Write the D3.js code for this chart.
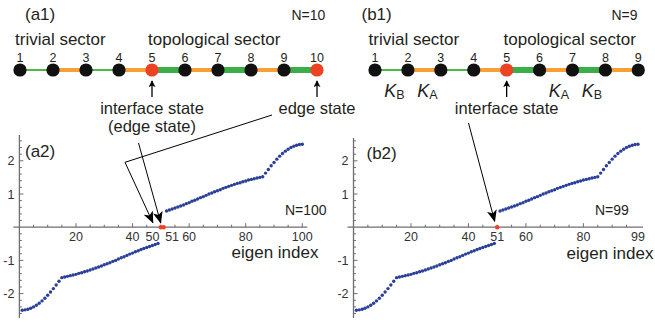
<!DOCTYPE html>
<html>
<head>
<meta charset="utf-8">
<script src="https://cdn.jsdelivr.net/npm/d3@7"></script>
<style>
  body { margin: 0; background: #fff; }
  svg { display: block; font-family: "Liberation Sans", Arial, sans-serif; }
</style>
</head>
<body>
<div id="chart"></div>
<script>
// chain data
var sitesA = [1, 2, 3, 4, 5, 6, 7, 8, 9, 10]
var bondsA = ["thin", "orange", "thin", "orange", "thick", "orange", "thick", "orange", "thick"]
var redA = [5, 10]
var sitesB = [1, 2, 3, 4, 5, 6, 7, 8, 9]
var bondsB = ["thin", "orange", "thin", "orange", "thick", "orange", "thick", "orange"]
var redB = [5]

// eigenvalues
var lowerBand = [-2.50, -2.49, -2.47, -2.44, -2.40, -2.35, -2.29, -2.22, -2.14, -2.05, -1.95, -1.85, -1.74, -1.63, -1.52,
  -1.50, -1.48, -1.46, -1.44, -1.42, -1.39, -1.37, -1.34, -1.32, -1.29, -1.26, -1.23, -1.20, -1.17, -1.13, -1.10,
  -1.07, -1.03, -1.00, -0.96, -0.92, -0.89, -0.85, -0.81, -0.78, -0.74, -0.71, -0.67, -0.64, -0.61, -0.58, -0.55,
  -0.52, -0.49]
var upperBand = [0.49, 0.52, 0.55, 0.58, 0.61, 0.64, 0.67, 0.71, 0.74, 0.78, 0.81, 0.85, 0.89, 0.92, 0.96, 1.00,
  1.03, 1.07, 1.10, 1.13, 1.17, 1.20, 1.23, 1.26, 1.29, 1.32, 1.34, 1.37, 1.39, 1.42, 1.44, 1.46, 1.48, 1.50,
  1.52, 1.63, 1.74, 1.85, 1.95, 2.05, 2.14, 2.22, 2.29, 2.35, 2.40, 2.44, 2.47, 2.49, 2.50]
var zeroIndexA = [50, 51]
var zeroLabelA = ["50", "51"]
var zeroIndexB = [50]
var zeroLabelB = ["51"]
var xTicksA = [20, 40, 60, 80, 100]
var xTicksB = [20, 40, 60, 80, 99]
var yTicks = [-2, -1, 1, 2]

var width = 655,
    height = 327

var ink = "#231f20",
    axisCol = "#6d6e71",
    dotCol = "#2a3f98",
    redCol = "#ee4224"
var bondStyle = {
  thin: {color: "#4db748", w: 2},
  orange: {color: "#f7a034", w: 4},
  thick: {color: "#3cae49", w: 6}
}

var svg = d3.select("#chart").append("svg")
    .attr("width", width)
    .attr("height", height)

var defs = svg.append("defs")
defs.append("marker")
    .attr("id", "head")
    .attr("markerUnits", "userSpaceOnUse")
    .attr("viewBox", "0 0 12 10")
    .attr("refX", 11).attr("refY", 5)
    .attr("markerWidth", 12).attr("markerHeight", 10)
    .attr("orient", "auto")
  .append("path")
    .attr("d", "M0,0 L12,5 L0,10 L3,5 z")
    .attr("fill", "#000")
defs.append("marker")
    .attr("id", "small")
    .attr("markerUnits", "userSpaceOnUse")
    .attr("viewBox", "0 0 8 8")
    .attr("refX", 7).attr("refY", 4)
    .attr("markerWidth", 7).attr("markerHeight", 7)
    .attr("orient", "auto")
  .append("path")
    .attr("d", "M0,0 L8,4 L0,8 L2,4 z")
    .attr("fill", "#000")

function label(x, y, txt, size, anchor) {
  return svg.append("text")
    .attr("x", x).attr("y", y)
    .attr("font-size", size)
    .attr("fill", ink)
    .attr("text-anchor", anchor || "start")
    .text(txt)
}

// ---------- chains ----------
function drawChain(sites, bonds, reds, x0, x1) {
  var x = d3.scaleLinear().domain([1, sites.length]).range([x0, x1])
  var cy = 70
  var g = svg.append("g")
  g.selectAll("line.bond")
    .data(bonds)
    .enter().append("line")
      .attr("x1", function(d, i) { return x(sites[i]) })
      .attr("x2", function(d, i) { return x(sites[i + 1]) })
      .attr("y1", cy).attr("y2", cy)
      .attr("stroke", function(d) { return bondStyle[d].color })
      .attr("stroke-width", function(d) { return bondStyle[d].w })
  g.selectAll("circle")
    .data(sites)
    .enter().append("circle")
      .attr("cx", function(d) { return x(d) })
      .attr("cy", cy)
      .attr("r", 6.6)
      .attr("fill", function(d) { return reds.indexOf(d) >= 0 ? redCol : "#111" })
  g.selectAll("text")
    .data(sites)
    .enter().append("text")
      .attr("x", function(d) { return x(d) })
      .attr("y", 62)
      .attr("text-anchor", "middle")
      .attr("font-size", 12.5)
      .attr("fill", ink)
      .text(function(d) { return d })
  reds.forEach(function(s) {
    g.append("line")
      .attr("x1", x(s)).attr("x2", x(s))
      .attr("y1", 97).attr("y2", 81)
      .attr("stroke", "#000").attr("stroke-width", 1.3)
      .attr("marker-end", "url(#small)")
  })
  return x
}

var chainA = drawChain(sitesA, bondsA, redA, 20, 317)
var chainB = drawChain(sitesB, bondsB, redB, 375, 638.3)

label(25, 20, "(a1)", 17)
label(291.5, 20, "N=10", 14)
label(15, 45, "trivial sector", 17)
label(148, 45, "topological sector", 17)
label(chainA(5), 114, "interface state", 16.5, "middle")
label(chainA(5), 132, "(edge state)", 16.5, "middle")
label(chainA(10), 114, "edge state", 16.5, "middle")

label(361.5, 20, "(b1)", 17)
label(611.5, 20, "N=9", 14)
label(368.5, 45, "trivial sector", 17)
label(503.5, 45, "topological sector", 17)
label(chainB(5), 114, "interface state", 16.5, "middle")

// coupling labels
function kLabel(bond, sub) {
  var t = svg.append("text")
    .attr("x", (chainB(bond) + chainB(bond + 1)) / 2 + 3)
    .attr("y", 96.5)
    .attr("text-anchor", "middle")
    .attr("fill", ink)
  t.append("tspan").attr("font-size", 18).attr("font-style", "italic").text("K")
  t.append("tspan").attr("font-size", 12.5).attr("dy", 2).text(sub)
}
kLabel(1, "B"); kLabel(2, "A"); kLabel(6, "A"); kLabel(7, "B")

// ---------- spectra ----------
function drawSpectrum(n, xr, lowStart, upStart, zeros, zeroLabels, xTicks, yTop) {
  var x = d3.scaleLinear().domain([0, n]).range(xr)
  var y = d3.scaleLinear().domain([0, 2]).range([227.2, 160.8])
  var g = svg.append("g")

  // axes
  g.append("line")
    .attr("x1", x(0) - 6).attr("x2", x(n) + 5)
    .attr("y1", y(0)).attr("y2", y(0))
    .attr("stroke", axisCol).attr("stroke-width", 1.3)
  g.append("line")
    .attr("x1", x(0)).attr("x2", x(0))
    .attr("y1", yTop).attr("y2", 318)
    .attr("stroke", axisCol).attr("stroke-width", 1.3)

  var minorX = d3.range(5, n + 1, 5)
  g.selectAll("line.xt")
    .data(minorX)
    .enter().append("line")
      .attr("x1", function(d) { return x(d) })
      .attr("x2", function(d) { return x(d) })
      .attr("y1", y(0))
      .attr("y2", function(d) { return y(0) - (d % 20 == 0 ? 4 : 2.5) })
      .attr("stroke", axisCol).attr("stroke-width", 1)
  var minorY = d3.range(-2.6, 2.7, 0.2).filter(function(d) { return Math.abs(d) > 0.05 })
  g.selectAll("line.yt")
    .data(minorY)
    .enter().append("line")
      .attr("x1", x(0))
      .attr("x2", function(d) { return x(0) + (Math.abs(d - Math.round(d)) < 0.05 ? 4 : 2.5) })
      .attr("y1", function(d) { return y(d) })
      .attr("y2", function(d) { return y(d) })
      .attr("stroke", axisCol).attr("stroke-width", 1)

  g.selectAll("text.xl")
    .data(xTicks)
    .enter().append("text")
      .attr("x", function(d) { return x(d) })
      .attr("y", 241)
      .attr("text-anchor", "middle")
      .attr("font-size", 12.5)
      .attr("fill", "#333")
      .text(function(d) { return d })
  g.selectAll("text.yl")
    .data(yTicks)
    .enter().append("text")
      .attr("x", x(0) - 5)
      .attr("y", function(d) { return y(d) + 4.5 })
      .attr("text-anchor", "end")
      .attr("font-size", 12.5)
      .attr("fill", "#333")
      .text(function(d) { return d })

  // eigenvalues
  var pts = lowerBand.map(function(v, i) { return {i: lowStart + i, v: v} })
    .concat(upperBand.map(function(v, i) { return {i: upStart + i, v: v} }))
  g.selectAll("circle.dot")
    .data(pts)
    .enter().append("circle")
      .attr("cx", function(d) { return x(d.i) })
      .attr("cy", function(d) { return y(d.v) })
      .attr("r", 1.7)
      .attr("fill", dotCol)
  g.selectAll("circle.zero")
    .data(zeros)
    .enter().append("circle")
      .attr("cx", function(d) { return x(d) })
      .attr("cy", y(0))
      .attr("r", 2.2)
      .attr("fill", redCol)
  g.selectAll("text.zl")
    .data(zeros)
    .enter().append("text")
      .attr("x", function(d, i) { return x(d) + (zeros.length > 1 ? (i == 0 ? -1.5 : 1.5) : 0) })
      .attr("y", 241)
      .attr("text-anchor", function(d, i) { return zeros.length > 1 ? (i == 0 ? "end" : "start") : "middle" })
      .attr("font-size", 12.5)
      .attr("fill", "#333")
      .text(function(d, i) { return zeroLabels[i] })
  return {x: x, y: y}
}

var sa = drawSpectrum(100, [19.4, 302.3], 1, 52, zeroIndexA, zeroLabelA, xTicksA, 135)
var sb = drawSpectrum(99, [353.5, 638], 1, 51, zeroIndexB, zeroLabelB, xTicksB, 138)

label(25, 157, "(a2)", 17)
label(285, 215, "N=100", 14)
label(231.5, 258, "eigen index", 17)
label(366.5, 159, "(b2)", 17)
label(595, 215, "N=99", 14)
label(566.5, 259, "eigen index", 17)

// annotation arrows
svg.append("path")
    .attr("d", d3.line()([[272, 115], [125, 162.3], [sa.x(zeroIndexA[0]) - 8, sa.y(0) - 4.5]]))
    .attr("fill", "none").attr("stroke", "#000").attr("stroke-width", 1)
    .attr("marker-end", "url(#head)")
svg.append("path")
    .attr("d", d3.line()([[138.5, 143], [sa.x(zeroIndexA[1]) - 3, sa.y(0) - 4.5]]))
    .attr("fill", "none").attr("stroke", "#000").attr("stroke-width", 1)
    .attr("marker-end", "url(#head)")
svg.append("path")
    .attr("d", d3.line()([[468.5, 123], [sb.x(zeroIndexB[0]) - 2.5, sb.y(0) - 6]]))
    .attr("fill", "none").attr("stroke", "#000").attr("stroke-width", 1)
    .attr("marker-end", "url(#head)")
</script>
</body>
</html>
